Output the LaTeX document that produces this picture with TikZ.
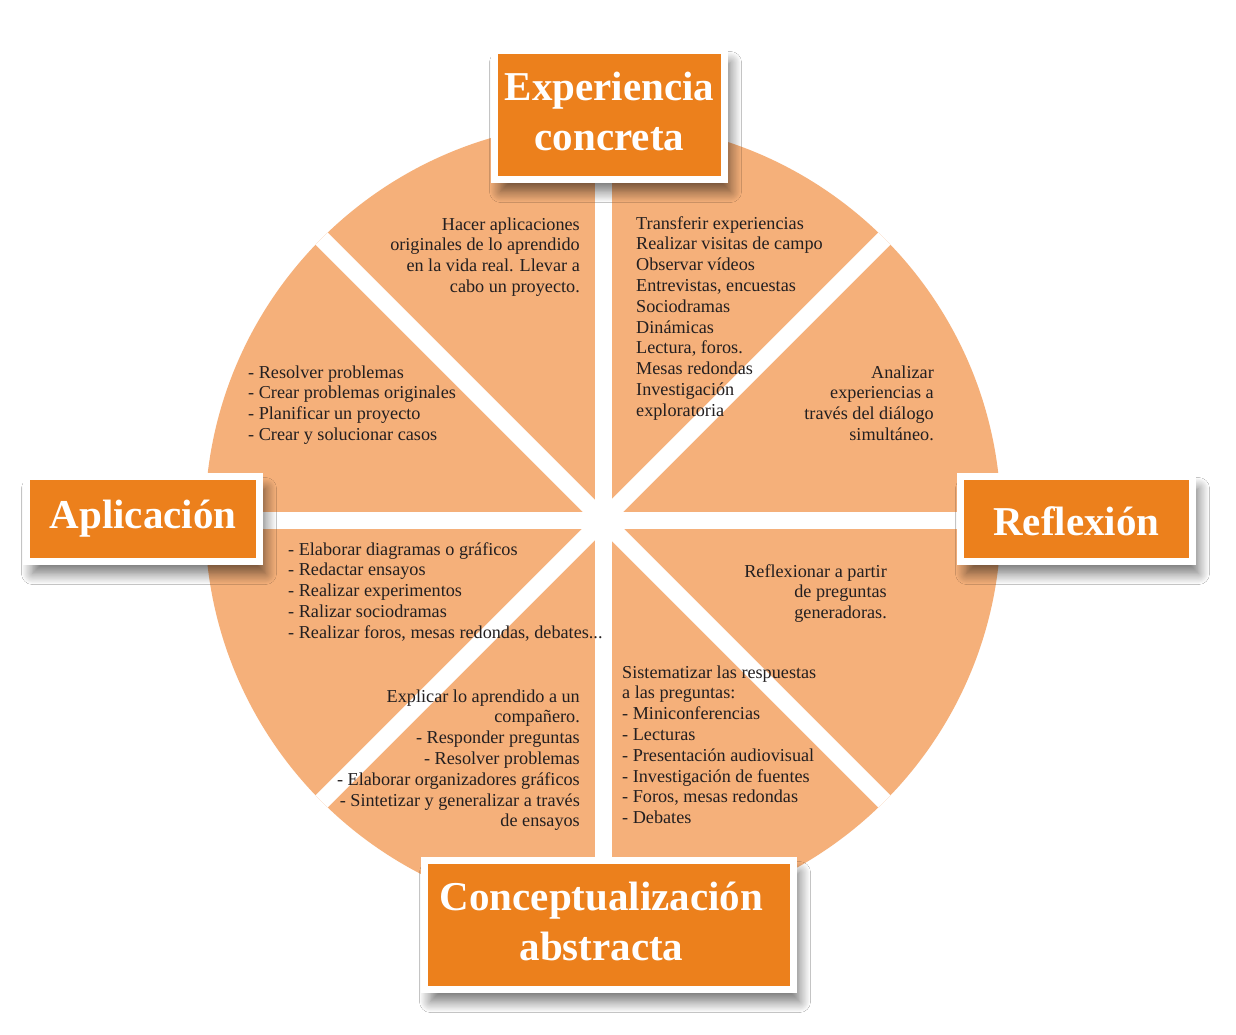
\documentclass[tikz,border=0pt]{standalone}
\usepackage{fontspec}
\setmainfont{Liberation Serif}
\usetikzlibrary{shadows.blur}
\definecolor{peach}{RGB}{245,176,122}
\definecolor{boxorange}{RGB}{236,128,28}
\definecolor{txt}{RGB}{35,31,32}
\begin{document}
\begin{tikzpicture}[x=1pt,y=-1pt,
  body/.style={inner sep=0pt, text=txt, font=\fontsize{18.2}{20.8}\selectfont},
  bodyL/.style={body, align=left, anchor=north west},
  bodyR/.style={body, align=right, anchor=north east},
  headbox/.style={fill=boxorange, draw=white, line width=7pt, inner sep=0pt,
    text=white, align=center, font=\fontsize{41}{50}\selectfont\bfseries,
    blur shadow={shadow xshift=6pt, shadow yshift=-12pt, shadow blur radius=11pt,
      shadow blur steps=14, shadow opacity=55}},
  spoke/.style={draw=white, line width=17pt}]
\useasboundingbox[fill=white] (0,0) rectangle (1236,1034);
\coordinate (c) at (603,520);
% wheel
\fill[peach] (c) circle (398);
\begin{scope}
  \clip (c) circle (398);
  \foreach \a in {0,45,...,315} \draw[spoke] (c) -- ++(\a:430);
\end{scope}
% texts
\node[bodyR] (tl) at (580,215.4) {\strut Hacer aplicaciones\\originales de lo aprendido\\en la vida real. Llevar a\\cabo un proyecto.};
\node[bodyL] (tr) at (636,214.4) {\strut Transferir experiencias\\Realizar visitas de campo\\Observar vídeos\\Entrevistas, encuestas\\Sociodramas\\Dinámicas\\Lectura, foros.\\Mesas redondas\\Investigación\\exploratoria};
\node[bodyR] (ru) at (934,363.4) {\strut Analizar\\experiencias a\\través del diálogo\\simultáneo.};
\node[bodyL] (lu) at (248,363.4) {\strut - Resolver problemas\\- Crear problemas originales\\- Planificar un proyecto\\- Crear y solucionar casos};
\node[bodyL] (ll) at (288,540.4) {\strut - Elaborar diagramas o gráficos\\- Redactar ensayos\\- Realizar experimentos\\- Ralizar sociodramas\\- Realizar foros, mesas redondas, debates...};
\node[bodyR] (rl) at (887,562.4) {\strut Reflexionar a partir\\de preguntas\\generadoras.};
\node[bodyR] (bl) at (580,687.4) {\strut Explicar lo aprendido a un\\compañero.\\- Responder preguntas\\- Resolver problemas\\- Elaborar organizadores gráficos\\- Sintetizar y generalizar a través\\de ensayos};
\node[bodyL] (br) at (622,663.4) {\strut Sistematizar las respuestas\\a las preguntas:\\- Miniconferencias\\- Lecturas\\- Presentación audiovisual\\- Investigación de fuentes\\- Foros, mesas redondas\\- Debates};
% heading boxes
\node[headbox, minimum width=230pt, minimum height=129pt] (exp) at (609.5,115) {\strut Experiencia\\concreta\strut};
\node[headbox, minimum width=233pt, minimum height=85pt] (apl) at (143,519) {\strut\raisebox{1pt}{Aplicación}};
\node[headbox, minimum width=232pt, minimum height=85pt] (ref) at (1076.5,519) {\strut\raisebox{-6pt}{Reflexión}};
\node[headbox, minimum width=369pt, minimum height=129pt] (con) at (609,925) {\strut Conceptualización\hspace*{15pt}\\abstracta\hspace*{15pt}\strut};
\end{tikzpicture}
\end{document}
